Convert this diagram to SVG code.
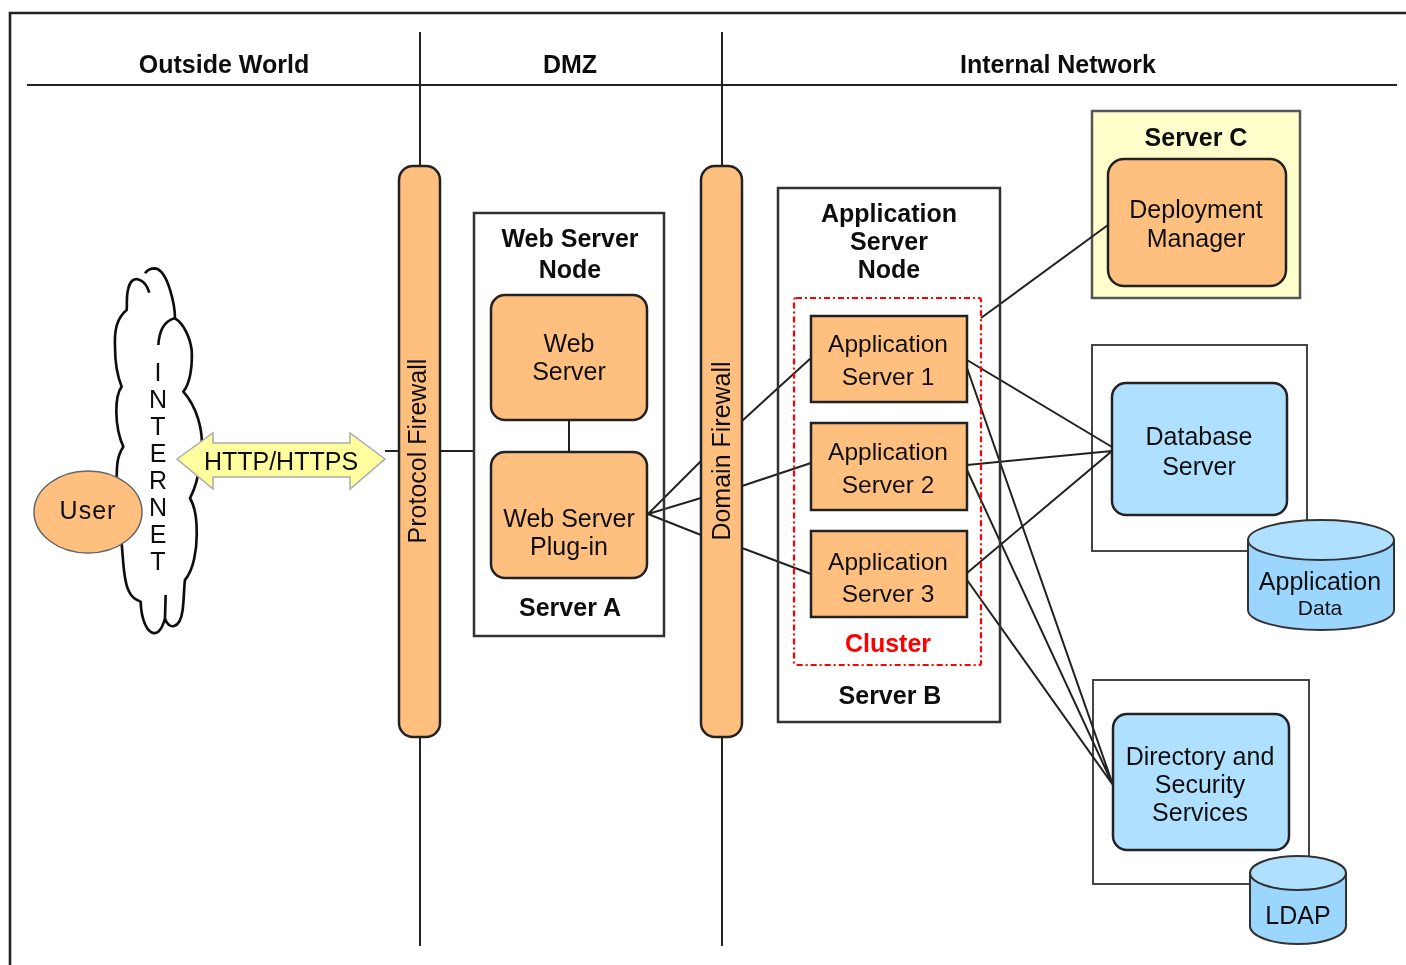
<svg xmlns="http://www.w3.org/2000/svg" width="1406" height="965" viewBox="0 0 1406 965">
<style>
text{font-family:"Liberation Sans",Arial,sans-serif;font-size:25px;fill:#111;text-anchor:middle}
.b{font-weight:bold}
.a{font-size:24.5px}
.box{fill:none;stroke:#333;stroke-width:2.5}
.or{fill:#ffbf7f;stroke:#222;stroke-width:2.5}
.bl{fill:#b0e0ff;stroke:#222;stroke-width:2.5}
.cy{fill:#9ad6ff;stroke:#333;stroke-width:2}
.top{fill:#b0e0ff;stroke:#333;stroke-width:2}
.ln{fill:none;stroke:#222;stroke-width:2}
</style>
<defs><filter id="soft" x="0" y="0" width="100%" height="100%" filterUnits="userSpaceOnUse" primitiveUnits="userSpaceOnUse"><feGaussianBlur stdDeviation="0.7"/></filter></defs>
<rect width="1406" height="965" fill="#fff"/>
<g filter="url(#soft)">
<rect width="1406" height="965" fill="#fff"/>
<g id="frame">
<path class="ln" style="stroke-width:2.6" d="M10 965V13H1406"/>
<path class="ln" d="M27 85H1397M420 32V946M722 32V946"/>
<text class="b" x="224" y="73">Outside World</text>
<text class="b" x="570" y="73">DMZ</text>
<text class="b" x="1058" y="73">Internal Network</text>
</g>
<g id="internet">
<path transform="translate(20 250) scale(.3333)" fill="#fff" stroke="#111" stroke-width="8" stroke-linejoin="round" d="M388 128C375 85 335 70 325 115C318 140 322 165 320 180C290 205 283 240 285 290C285 340 295 385 305 410C283 440 283 530 310 590C290 620 290 650 290 700L305 880C310 930 310 990 325 1020C335 1045 350 1050 362 1055C365 1150 415 1185 435 1105C445 1140 480 1140 488 1080C492 1050 492 1010 495 990C520 960 532 900 530 840C530 800 525 770 510 745C525 715 535 690 545 600C550 540 530 470 490 425C510 400 518 350 515 300C510 260 490 220 465 205C465 170 445 60 405 55C390 55 380 62 375 70M465 205C435 212 418 240 415 285M437 1035L435 1105"/>
<text x="158" y="381"><tspan x="158">I</tspan><tspan x="158" dy="27">N</tspan><tspan x="158" dy="27">T</tspan><tspan x="158" dy="27">E</tspan><tspan x="158" dy="27">R</tspan><tspan x="158" dy="27">N</tspan><tspan x="158" dy="27">E</tspan><tspan x="158" dy="27">T</tspan></text>
</g>
<g id="user">
<ellipse cx="88" cy="512" rx="54" ry="41" fill="#ffbf7f" stroke="#666" stroke-width="1.5"/>
<text x="88" y="519" style="letter-spacing:1px">User</text>
</g>
<g id="server-c">
<rect x="1092" y="111" width="208" height="187" fill="#ffffcc" stroke="#555" stroke-width="2.5"/>
<text class="b" x="1196" y="146">Server C</text>
</g>
<g id="db-box"><rect x="1092" y="345" width="215" height="206" fill="#fff" stroke="#444" stroke-width="2"/></g>
<g id="dir-box"><rect x="1093" y="680" width="216" height="204" fill="#fff" stroke="#444" stroke-width="2"/></g>
<g id="connectors">
<path class="ln" d="M385 451H399M440 451H474M569 420V452"/>
<path class="ln" d="M648 514L701 461M648 514L701 498M648 514L701 535M742 421L811 358M742 486L811 463M742 548L811 574"/>
<path class="ln" d="M981 318L1108 225M967 360L1112 447M967 465L1112 451M967 573L1112 451M967 368L1113 785M967 470L1113 785M967 580L1113 785"/>
</g>
<g id="http">
<path fill="#ffff9f" stroke="#aaa" stroke-width="1.5" d="M177 459L213 433V443H350V433L385 459L350 489V477H213V489Z"/>
<text x="281" y="470">HTTP/HTTPS</text>
</g>
<g id="protocol-firewall">
<rect class="or" x="399" y="166" width="41" height="571" rx="14"/>
<text transform="translate(426 451) rotate(-90)">Protocol Firewall</text>
</g>
<g id="domain-firewall">
<rect class="or" x="701" y="166" width="41" height="571" rx="14"/>
<text transform="translate(730 451) rotate(-90)">Domain Firewall</text>
</g>
<g id="web-server-node">
<rect class="box" x="474" y="213" width="190" height="423"/>
<text class="b" x="570" y="247">Web Server</text>
<text class="b" x="570" y="278">Node</text>
<text class="b" x="570" y="616">Server A</text>
</g>
<g id="web-server">
<rect class="or" x="491" y="295" width="156" height="125" rx="14"/>
<text x="569" y="352">Web</text><text x="569" y="380">Server</text>
</g>
<g id="plugin">
<rect class="or" x="491" y="452" width="156" height="126" rx="14"/>
<text x="569" y="527">Web Server</text><text x="569" y="555">Plug-in</text>
</g>
<g id="app-server-node">
<rect class="box" x="778" y="188" width="222" height="534"/>
<text class="b" x="889" y="222">Application</text>
<text class="b" x="889" y="250">Server</text>
<text class="b" x="889" y="278">Node</text>
<text class="b" x="890" y="704">Server B</text>
</g>
<g id="cluster">
<rect x="794" y="298" width="187" height="367" rx="2" fill="none" stroke="#f00" stroke-width="2.2" stroke-dasharray="6 3 2 3"/>
<text class="b" x="888" y="652" style="fill:#f00">Cluster</text>
</g>
<g id="app1"><rect class="or" x="811" y="316" width="156" height="86"/><text class="a" x="888" y="352">Application</text><text class="a" x="888" y="385">Server 1</text></g>
<g id="app2"><rect class="or" x="811" y="423" width="156" height="87"/><text class="a" x="888" y="460">Application</text><text class="a" x="888" y="493">Server 2</text></g>
<g id="app3"><rect class="or" x="811" y="531" width="156" height="86"/><text class="a" x="888" y="570">Application</text><text class="a" x="888" y="602">Server 3</text></g>
<g id="deployment-manager">
<rect class="or" x="1108" y="159" width="178" height="127" rx="16"/>
<text x="1196" y="218">Deployment</text><text x="1196" y="247">Manager</text>
</g>
<g id="database-server">
<rect class="bl" x="1112" y="383" width="175" height="132" rx="14"/>
<text x="1199" y="445">Database</text><text x="1199" y="475">Server</text>
</g>
<g id="application-data">
<path class="cy" d="M1248 540V610A73 20 0 0 0 1394 610V540Z"/>
<ellipse class="top" cx="1321" cy="540" rx="73" ry="20"/>
<text x="1320" y="590">Application</text><text x="1320" y="615" style="font-size:21px">Data</text>
</g>
<g id="directory">
<rect class="bl" x="1113" y="714" width="176" height="136" rx="14"/>
<text x="1200" y="765">Directory and</text><text x="1200" y="793">Security</text><text x="1200" y="821">Services</text>
</g>
<g id="ldap">
<path class="cy" d="M1250 873V926A48 18 0 0 0 1346 926V873Z"/>
<ellipse class="top" cx="1298" cy="873" rx="48" ry="17"/>
<text x="1298" y="924">LDAP</text>
</g>
</g>
</svg>
